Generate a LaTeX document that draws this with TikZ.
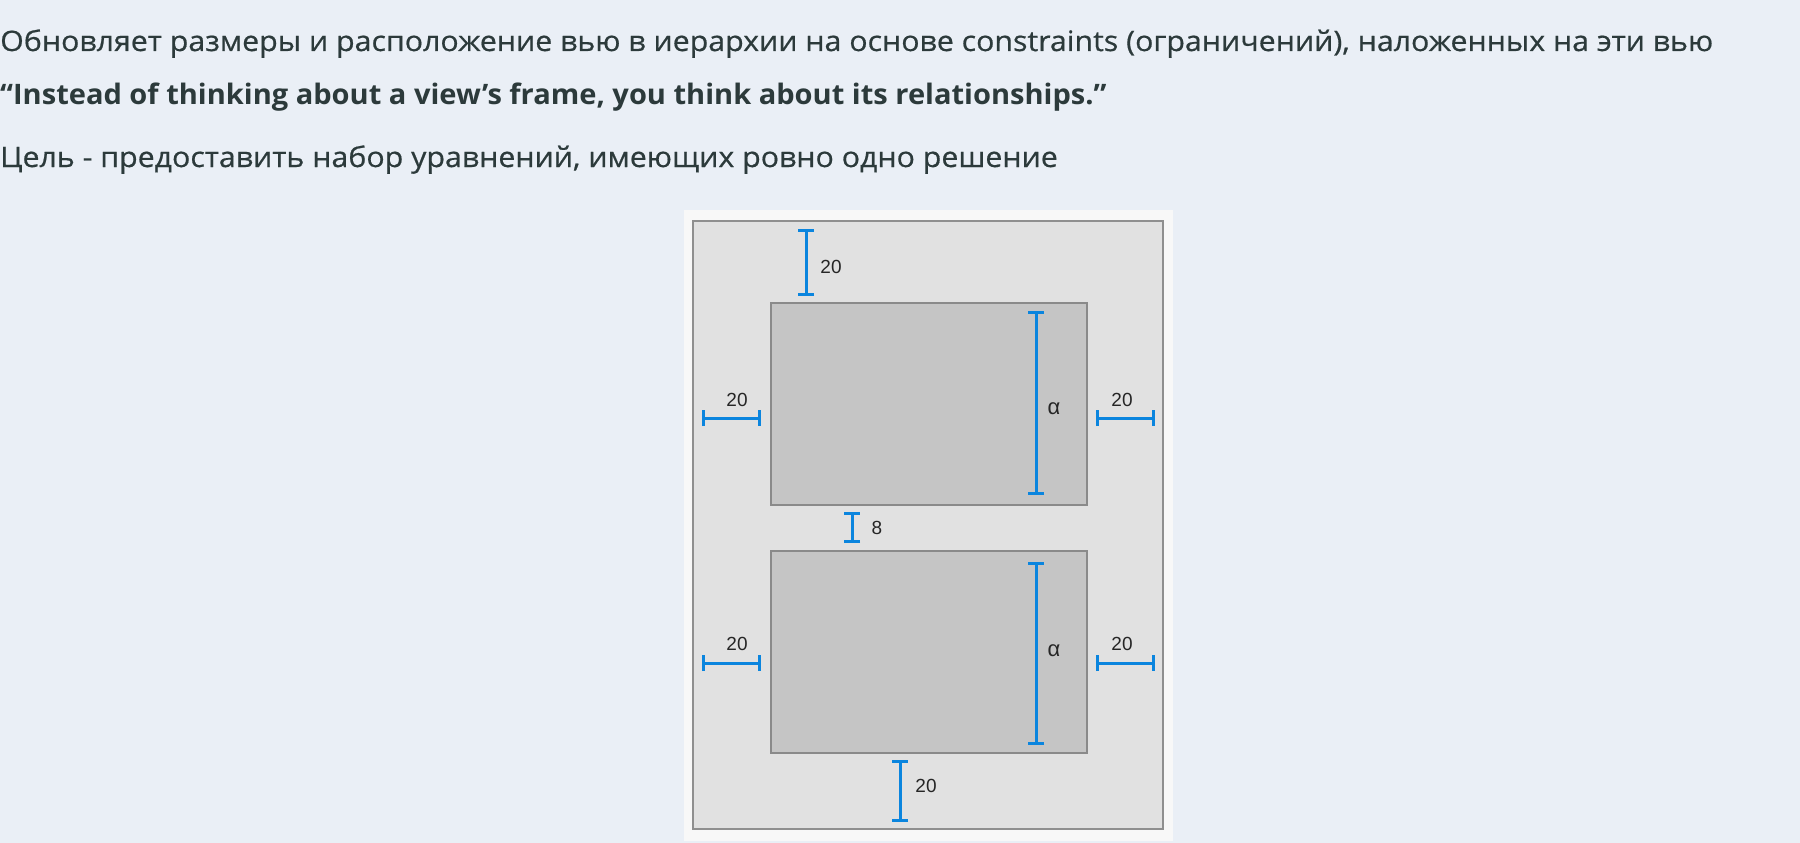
\documentclass[tikz,border=0pt]{standalone}
\usepackage{fontspec}
\setmainfont{Open Sans}
\newfontfamily\regfont[FakeStretch=1.075, FakeBold=0.6]{Open Sans}
\newfontfamily\quotefont[FakeStretch=1.03, BoldFont={Open Sans Bold}]{Open Sans}
\newfontfamily\labelfont{Liberation Sans}
\usetikzlibrary{arrows.meta}
\definecolor{pagebg}{HTML}{EAEFF6}
\definecolor{txt}{HTML}{2C3A3B}
\definecolor{panel}{HTML}{F8F8F8}
\definecolor{framefill}{HTML}{E1E1E1}
\definecolor{frameline}{HTML}{8F8F8F}
\definecolor{viewfill}{HTML}{C5C5C5}
\definecolor{viewline}{HTML}{8A8A8A}
\definecolor{dimblue}{HTML}{0B85DE}
\tikzset{
  bodytext/.style={anchor=base west, inner sep=0pt, text=txt, font=\regfont\fontsize{28.2}{32}\selectfont},
  quotetext/.style={anchor=base west, inner sep=0pt, text=txt, font=\quotefont\bfseries\fontsize{28.2}{32}\selectfont},
  viewbox/.style={draw=viewline, fill=viewfill, line width=2pt, inner sep=0pt, minimum width=316pt, minimum height=202pt},
  dimbar/.style={draw=dimblue, line width=3pt, {Bar[width=16pt]}-{Bar[width=16pt]}},
  dimlabel/.style={inner sep=0pt, font=\labelfont\fontsize{19}{22}\selectfont, text=black!85},
  alphalabel/.style={dimlabel, font=\labelfont\fontsize{22}{24}\selectfont}
}
\begin{document}
\begin{tikzpicture}[x=1pt,y=-1pt]
\useasboundingbox (0,0) rectangle (1800,843);
\fill[pagebg] (0,0) rectangle (1800,843);
\node[bodytext] (l1) at (0,51) {Обновляет размеры и расположение вью в иерархии на основе constraints (ограничений), наложенных на эти вью};
\node[quotetext] (l2) at (0,105) {“Instead of thinking about a view’s frame, you think about its relationships.”};
\node[bodytext] (l3) at (0,167) {Цель - предоставить набор уравнений, имеющих ровно одно решение};
% panel
\fill[panel] (684,210) rectangle (1173,841);
\draw[draw=frameline, fill=framefill, line width=2pt] (693,221) rectangle (1163,829);
\node[viewbox] (v1) at (929,404) {};
\node[viewbox] (v2) at (929,652) {};
% dimension bars
\draw[dimbar] (806,229) -- (806,296);
\node[dimlabel] (t20) at (831,267) {20};
\draw[dimbar] (702,418) -- (761,418);
\node[dimlabel] (l20a) at (737,400) {20};
\draw[dimbar] (1096,418) -- (1155,418);
\node[dimlabel] (r20a) at (1122,400) {20};
\draw[dimbar] (1036,311) -- (1036,495);
\node[alphalabel] (a1) at (1054,409) {α};
\draw[dimbar] (852,512) -- (852,543);
\node[dimlabel] (g8) at (877,528) {8};
\draw[dimbar] (702,663) -- (761,663);
\node[dimlabel] (l20b) at (737,644) {20};
\draw[dimbar] (1096,663) -- (1155,663);
\node[dimlabel] (r20b) at (1122,644) {20};
\draw[dimbar] (1036,562) -- (1036,745);
\node[alphalabel] (a2) at (1054,651) {α};
\draw[dimbar] (900,760) -- (900,822);
\node[dimlabel] (b20) at (926,786) {20};
\end{tikzpicture}
\end{document}
